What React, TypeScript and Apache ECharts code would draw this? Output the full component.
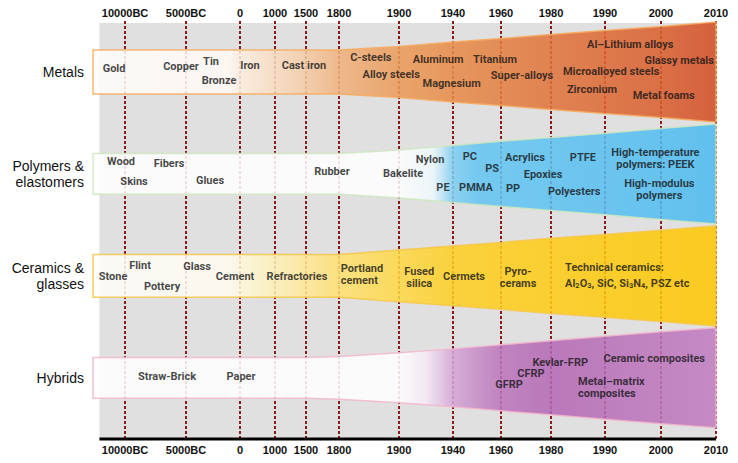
import { useEffect, useRef } from "react";
import * as echarts from "echarts";

// ---------- DATA ----------
const TICK_LABELS = ["10000BC", "5000BC", "0", "1000", "1500", "1800", "1900", "1940", "1960", "1980", "1990", "2000", "2010"];
const TICK_YEARS = [-10000, -5000, 0, 1000, 1500, 1800, 1900, 1940, 1960, 1980, 1990, 2000, 2010];
// position of each tick on the (non-linear) timeline, in % of the timeline width
const TICK_POS = [5.14, 14.93, 23.6, 29.21, 34.19, 39.49, 49.12, 57.78, 65.49, 73.52, 82.18, 91.17, 100];

const CLASSES = ["Metals", "Polymers &\nelastomers", "Ceramics &\nglasses", "Hybrids"];

// half-spread of each material class (row units) at every tick year
const METALS_SPREAD = [0.216, 0.216, 0.216, 0.216, 0.216, 0.216, 0.25, 0.294, 0.328, 0.368, 0.407, 0.446, 0.49];
const POLYMERS_SPREAD = [0.2, 0.2, 0.2, 0.2, 0.2, 0.2, 0.235, 0.28, 0.32, 0.358, 0.4, 0.446, 0.49];
const CERAMICS_SPREAD = [0.21, 0.21, 0.21, 0.21, 0.21, 0.21, 0.255, 0.294, 0.328, 0.368, 0.407, 0.448, 0.49];
const HYBRIDS_SPREAD = [0.2, 0.2, 0.2, 0.2, 0.2, 0.21, 0.245, 0.284, 0.324, 0.363, 0.407, 0.451, 0.49];

// materials: [name, approximate year, offset inside its class row]
type Mat = [string, number, number];
const METALS: Mat[] = [
  ["Gold", -10900, -0.03],
  ["Copper", -5410, -0.05],
  ["Tin", -2685, -0.1],
  ["Bronze", -1944, 0.08],
  ["Iron", 286, -0.06],
  ["Cast iron", 1467, -0.06],
  ["C-steels", 1853, -0.14],
  ["Alloy steels", 1887, 0.02],
  ["Aluminum", 1929, -0.12],
  ["Magnesium", 1939, 0.11],
  ["Titanium", 1957.5, -0.12],
  ["Super-alloys", 1968.4, 0.03],
  ["Al–Lithium alloys", 1994.5, -0.27],
  ["Glassy metals", 2003.3, -0.11],
  ["Microalloyed steels", 1991.1, 0],
  ["Zirconium", 1987.6, 0.17],
  ["Metal foams", 2000.5, 0.235],
];
const POLYMERS: Mat[] = [
  ["Wood", -10330, -0.12],
  ["Fibers", -6390, -0.1],
  ["Skins", -9260, 0.07],
  ["Glues", -2778, 0.06],
  ["Rubber", 1736, -0.02],
  ["Bakelite", 1903, 0],
  ["Nylon", 1923, -0.14],
  ["PE", 1932.6, 0.13],
  ["PC", 1947, -0.17],
  ["PS", 1956.3, -0.05],
  ["PMMA", 1949.6, 0.13],
  ["Acrylics", 1969.6, -0.16],
  ["Epoxies", 1976.8, 0.01],
  ["PP", 1964.8, 0.14],
  ["PTFE", 1985.9, -0.16],
  ["Polyesters", 1984.3, 0.17],
  ["High-temperature\npolymers: PEEK", 1999, -0.15],
  ["High-modulus\npolymers", 1999.7, 0.15],
];
const CERAMICS: Mat[] = [
  ["Stone", -10980, 0.01],
  ["Flint", -8770, -0.1],
  ["Pottery", -6966, 0.1],
  ["Glass", -3981, -0.09],
  ["Cement", -463, 0.01],
  ["Refractories", 1354, 0.01],
  ["Portland\ncement", 1803, -0.01],
  ["Fused\nsilica", 1915, 0.015],
  ["Cermets", 1944.6, 0.01],
  ["Pyro-\ncerams", 1966.8, 0.015],
  ["Technical ceramics:", 1982.6, -0.08],
  ["Al2O3, SiC, Si3N4, PSZ etc", 1982.6, 0.07],
];
const HYBRIDS: Mat[] = [
  ["Straw-Brick", -6556, -0.01],
  ["Paper", 29, -0.01],
  ["GFRP", 1963.2, 0.07],
  ["CFRP", 1972, -0.04],
  ["Kevlar-FRP", 1981.7, -0.15],
  ["Ceramic composites", 1998.8, -0.19],
  ["Metal–matrix\ncomposites", 1985, 0.09],
];

const BG_START_YEAR = -12100;

// ---------- STYLES ----------
const LABEL_FONT = "Roboto, 'Liberation Sans', sans-serif";
const AXIS_FONT = "'Liberation Sans', Arial, sans-serif";
const LABEL_SIZE = 11;
const LEFT_ALIGNED = new Set(["Portland\ncement", "Technical ceramics:", "Al2O3, SiC, Si3N4, PSZ etc", "Metal–matrix\ncomposites"]);

const BAND_STYLES = [
  {
    stroke: "#f5aa60",
    stops: [[-12700, "#fffdfb"], [-1000, "#fffaf5"], [0, "#fdeee0"], [1000, "#f9dcc0"], [1500, "#f5cba5"], [1800, "#f0b27d"], [1900, "#eb9a58"], [1940, "#e78b47"], [1980, "#e0733a"], [2000, "#d95e2d"], [2010, "#d24b22"]],
  },
  {
    stroke: "#cde6bf",
    stops: [[-12700, "#ffffff"], [1900, "#ffffff"], [1925, "#eef8fd"], [1933, "#b8e3f7"], [1940, "#7dcff4"], [1950, "#63c5f2"], [2010, "#4dbbf0"]],
  },
  {
    stroke: "#f6c64a",
    stops: [[-12700, "#fffefa"], [-1000, "#fffcf0"], [0, "#fff8dc"], [1000, "#fff0b8"], [1500, "#ffe896"], [1800, "#ffe070"], [1900, "#ffd845"], [1940, "#ffcf22"], [2010, "#fec700"]],
  },
  {
    stroke: "#f2b6cc",
    stops: [[-12700, "#ffffff"], [1900, "#ffffff"], [1920, "#f6e9f6"], [1940, "#d5a5d5"], [1950, "#c68bc6"], [1960, "#bb74bb"], [1980, "#b468b4"], [2010, "#c07cc0"]],
  },
];

const Y_MIN = -0.5;
const Y_MAX = 3.6;
const BG_TOP = -0.48;

// ---------- helpers ----------
function yearToPos(y: number): number {
  const n = TICK_YEARS.length;
  let i = 0;
  if (y <= TICK_YEARS[0]) i = 0;
  else if (y >= TICK_YEARS[n - 1]) i = n - 2;
  else {
    while (y > TICK_YEARS[i + 1]) i++;
  }
  const t = (y - TICK_YEARS[i]) / (TICK_YEARS[i + 1] - TICK_YEARS[i]);
  return TICK_POS[i] + t * (TICK_POS[i + 1] - TICK_POS[i]);
}

function tickLabel(v: number): string {
  const i = TICK_POS.findIndex((p) => Math.abs(p - v) < 0.01);
  return i >= 0 ? TICK_LABELS[i] : "";
}

const SPREADS = [METALS_SPREAD, POLYMERS_SPREAD, CERAMICS_SPREAD, HYBRIDS_SPREAD];
const GROUPS = [METALS, POLYMERS, CERAMICS, HYBRIDS];

function buildOption(): any {
  const labelData: any[] = [];
  GROUPS.forEach((group, row) => {
    group.forEach(([name, year, off]) => {
      const item: any = { name, value: [yearToPos(year), row + off] };
      const lbl: any = {};
      if (LEFT_ALIGNED.has(name)) lbl.align = "left";
      if (/\d/.test(name)) {
        lbl.formatter = "{t|" + name.replace(/(\d)/g, "}{s|$1}{t|") + "}";
        lbl.rich = {
          t: { fontSize: LABEL_SIZE, fontWeight: "bold", fontFamily: LABEL_FONT, color: "#151515", lineHeight: 13, verticalAlign: "middle" },
          s: { fontSize: 7.5, fontWeight: "bold", fontFamily: LABEL_FONT, color: "#151515", lineHeight: 7, verticalAlign: "bottom" },
        };
      }
      item.label = lbl;
      labelData.push(item);
    });
  });

  const axisLabelBase = {
    customValues: TICK_POS,
    formatter: tickLabel,
    fontSize: 11,
    fontWeight: "bold",
    color: "#111",
    fontFamily: AXIS_FONT,
  };

  return {
    animation: false,
    backgroundColor: "#ffffff",
    grid: { left: 93, right: 22, top: 21, bottom: 24 },
    xAxis: [
      {
        type: "value", min: 0, max: 100, position: "bottom",
        axisLine: { show: false }, axisTick: { show: false }, splitLine: { show: false },
        axisLabel: { ...axisLabelBase, margin: 5 },
      },
      {
        type: "value", min: 0, max: 100, position: "top",
        axisLine: { show: false }, axisTick: { show: false }, splitLine: { show: false },
        axisLabel: { ...axisLabelBase, margin: 3 },
      },
    ],
    yAxis: {
      type: "value", inverse: true, min: Y_MIN, max: Y_MAX,
      axisLine: { show: false }, axisTick: { show: false }, splitLine: { show: false },
      axisLabel: {
        customValues: [0, 1, 2, 3],
        formatter: (v: number) => CLASSES[Math.round(v)] ?? "",
        fontSize: 14, lineHeight: 16, color: "#111", margin: 9,
        fontFamily: AXIS_FONT,
      },
    },
    series: [
      {
        type: "custom",
        z: 0,
        silent: true,
        data: [[yearToPos(BG_START_YEAR), BG_TOP]],
        encode: { x: 0, y: 1 },
        renderItem: (_p: any, api: any) => {
          const a = api.coord([yearToPos(BG_START_YEAR), BG_TOP]);
          const b = api.coord([100, Y_MAX]);
          return { type: "rect", shape: { x: a[0], y: a[1], width: b[0] - a[0], height: b[1] - a[1] - 1 }, style: { fill: "#e0e0e0" } };
        },
      },
      {
        type: "line",
        z: 1,
        silent: true,
        clip: false,
        symbol: "none",
        lineStyle: { color: "#000", width: 3 },
        data: [[yearToPos(BG_START_YEAR), Y_MAX], [100, Y_MAX]],
        markLine: {
          z: 1,
          silent: true,
          symbol: ["none", "none"],
          label: { show: false },
          lineStyle: { color: "#8b1a1a", width: 2, type: [3, 2] },
          data: TICK_POS.map((p) => ({ xAxis: p })),
        },
      },
      {
        type: "custom",
        z: 10,
        silent: true,
        data: CLASSES.map((_c, i) => [0, i]),
        encode: { x: 0, y: 1 },
        renderItem: (params: any, api: any) => {
          const i = params.dataIndex;
          const spread = SPREADS[i];
          const xs = [0, ...TICK_POS];
          const hw = [spread[0], ...spread];
          const top = xs.map((x, k) => api.coord([x, i - hw[k]]));
          const bot = xs.map((x, k) => api.coord([x, i + hw[k]])).reverse();
          const st = BAND_STYLES[i];
          const stops = st.stops.map(([yr, c]) => ({
            offset: Math.min(1, Math.max(0, yearToPos(yr as number) / 100)),
            color: c as string,
          }));
          return {
            type: "polygon",
            shape: { points: [...top, ...bot] },
            style: {
              fill: new echarts.graphic.LinearGradient(0, 0, 1, 0, stops),
              stroke: st.stroke,
              lineWidth: 1.5,
              opacity: 0.86,
            },
          };
        },
      },
      {
        type: "scatter",
        z: 11,
        silent: true,
        symbolSize: 1,
        itemStyle: { color: "rgba(0,0,0,0)" },
        label: {
          show: true,
          position: "inside",
          formatter: "{b}",
          fontSize: LABEL_SIZE,
          fontWeight: "bold",
          fontFamily: LABEL_FONT,
          color: "#151515",
          lineHeight: 12,
          align: "center",
          verticalAlign: "middle",
        },
        data: labelData,
      },
    ],
  };
}

export default function App() {
  const ref = useRef<HTMLDivElement>(null);
  useEffect(() => {
    if (!ref.current) return;
    const chart = echarts.init(ref.current, null, { renderer: "svg" });
    chart.setOption(buildOption());
    return () => chart.dispose();
  }, []);
  return (
    <div
      ref={ref}
      style={{ position: "fixed", left: 0, top: 0, width: 738, height: 463, background: "#fff" }}
    />
  );
}
